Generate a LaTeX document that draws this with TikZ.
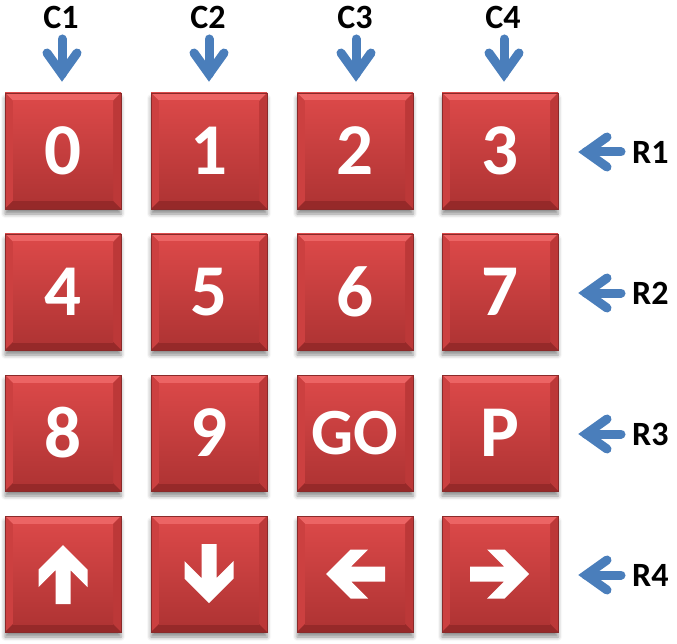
\documentclass[tikz,border=0pt]{standalone}
\usepackage{fontspec}
\setmainfont{Carlito}
\usetikzlibrary{shadows.blur}
\definecolor{keytop}{HTML}{DA4848}
\definecolor{keybot}{HTML}{B03434}
\definecolor{bevtop}{HTML}{EC6464}
\definecolor{bevleft}{HTML}{CC4040}
\definecolor{bevright}{HTML}{BC3838}
\definecolor{bevbot}{HTML}{962929}
\definecolor{keyedge}{HTML}{8A2A2A}
\definecolor{arrblue}{HTML}{4A7EBB}
\newcommand\keyfont{\fontsize{73}{73}\selectfont\bfseries}
\newcommand\gofont{\fontsize{66}{66}\selectfont\bfseries}
\newcommand\lblfont{\fontsize{34}{34}\selectfont\bfseries}
\tikzset{
  x=1pt, y=-1pt,
  keybox/.style={minimum width=116pt, minimum height=116pt, inner sep=0pt,
    top color=keytop, bottom color=keybot, draw=keyedge, line width=0.6pt,
    text=white, font=\keyfont,
    blur shadow={shadow xshift=0pt, shadow yshift=-5pt, shadow blur radius=4pt, shadow opacity=45},
    path picture={
      \fill[bevtop] (path picture bounding box.north west) -- (path picture bounding box.north east)
        -- ++(-8pt,-8pt) -- ([shift={(8pt,-8pt)}]path picture bounding box.north west) -- cycle;
      \fill[bevleft] (path picture bounding box.north west) -- (path picture bounding box.south west)
        -- ++(8pt,8pt) -- ([shift={(8pt,-8pt)}]path picture bounding box.north west) -- cycle;
      \fill[bevright] (path picture bounding box.north east) -- (path picture bounding box.south east)
        -- ++(-8pt,8pt) -- ([shift={(-8pt,-8pt)}]path picture bounding box.north east) -- cycle;
      \fill[bevbot] (path picture bounding box.south west) -- (path picture bounding box.south east)
        -- ++(-8pt,8pt) -- ([shift={(8pt,8pt)}]path picture bounding box.south west) -- cycle;
      \fill[top color=keytop, bottom color=keybot]
        ([shift={(8pt,-8pt)}]path picture bounding box.north west) rectangle
        ([shift={(-8pt,8pt)}]path picture bounding box.south east);
    }},
  lbl/.style={font=\lblfont, text=black, inner sep=0pt},
  bluearrow/.style={draw=arrblue, line width=9pt, line cap=round, line join=miter},
  iconarrow/.style={fill=white}
}
\newcommand\blockarrow[2]{%
  \fill[iconarrow, shift={(#1)}, rotate=#2]
    (0,-29) -- (24.5,-4.5) -- (24.5,13) -- (7.5,-4) -- (7.5,30) -- (-7.5,30)
    -- (-7.5,-4) -- (-24.5,13) -- (-24.5,-4.5) -- cycle;}
\begin{document}
\begin{tikzpicture}
\useasboundingbox (0,0) rectangle (677,644);
% keys
\node[keybox] (k0) at (63,151) {0};
\node[keybox] (k1) at (209,151) {1};
\node[keybox] (k2) at (355,151) {2};
\node[keybox] (k3) at (500,151) {3};
\node[keybox] (k4) at (63,292) {4};
\node[keybox] (k5) at (209,292) {5};
\node[keybox] (k6) at (355,292) {6};
\node[keybox] (k7) at (500,292) {7};
\node[keybox] (k8) at (63,433) {8};
\node[keybox] (k9) at (209,433) {9};
\node[keybox, font=\gofont] (kgo) at (355,433) {GO};
\node[keybox] (kp) at (500,433) {P};
\node[keybox] (kup) at (63,574) {};
\node[keybox] (kdown) at (209,574) {};
\node[keybox] (kleft) at (355,574) {};
\node[keybox] (kright) at (500,574) {};
\blockarrow{kup.center}{0}
\blockarrow{kdown.center}{180}
\blockarrow{kleft.center}{90}
\blockarrow{kright.center}{-90}
% column labels
\foreach \n/\x in {1/61,2/208,3/355,4/503}{
  \node[lbl] (c\n) at (\x,17) {C\n};
  \coordinate (ca\n) at (\x+1,39);
  \coordinate (cb\n) at (\x+1,74);
  \draw[bluearrow] (ca\n) -- (cb\n);
  \draw[bluearrow] ([shift={(-15,0)}]cb\n) ++(0,-21) -- (cb\n) -- ++(15,-21);
}
\foreach \n/\y in {1/152,2/293,3/434,4/575}{
  \node[lbl, anchor=west] (r\n) at (632,\y) {R\n};
  \coordinate (ra\n) at (621,\y);
  \coordinate (rb\n) at (586,\y);
  \draw[bluearrow] (ra\n) -- (rb\n);
  \draw[bluearrow] ([shift={(21,-15)}]rb\n) -- (rb\n) -- ++(21,15);
}
\end{tikzpicture}
\end{document}
